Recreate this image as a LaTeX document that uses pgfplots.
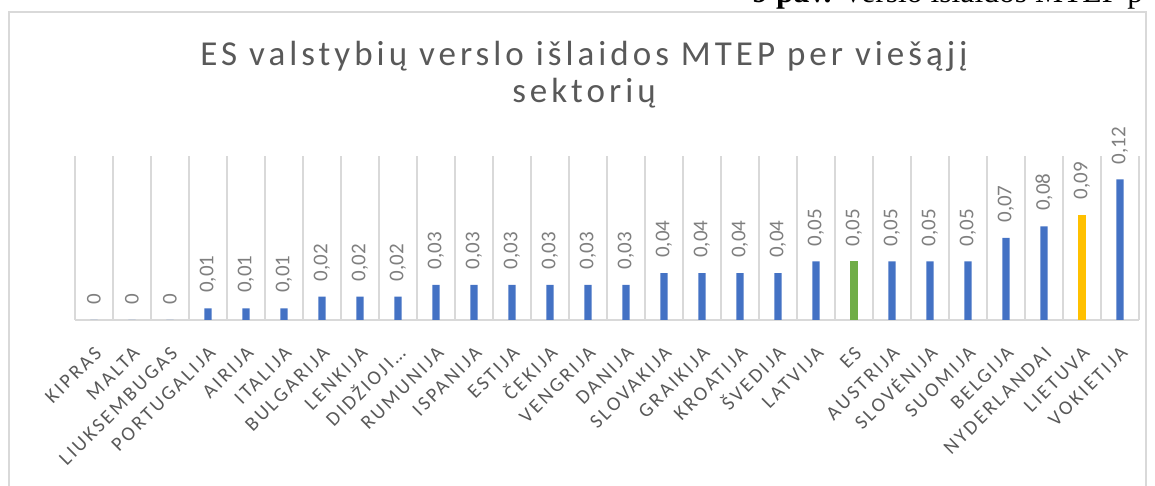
\documentclass[border=0pt]{standalone}
\usepackage{fontspec}
\setmainfont{Liberation Serif}
\newfontfamily\lblfont{Carlito}
\newfontfamily\tickfont[LetterSpace=13]{Carlito}
\newfontfamily\titlefont[LetterSpace=11.5]{Carlito}
\usepackage{pgfplots}
\pgfplotsset{compat=1.18}
\definecolor{cblue}{HTML}{4472C4}
\definecolor{cgreen}{HTML}{70AD47}
\definecolor{cyellow}{HTML}{FFC000}
\definecolor{ctxt}{HTML}{595959}
\definecolor{clbl}{HTML}{7F7F7F}
\definecolor{cgrid}{HTML}{D9D9D9}
\begin{document}
\begin{tikzpicture}
\useasboundingbox (0,0) rectangle (577.5pt,243pt);
\clip (0,0) rectangle (577.5pt,243pt);
% caption fragment of the document (cut at top)
\node[anchor=base west, inner sep=0pt, font=\fontsize{15.8}{18}\selectfont] at (376pt,241.75pt) {\textbf{9 pav.} Verslo išlaidos MTEP p};
% chart frame
\draw[cgrid, line width=0.9pt] (4.5pt,-20pt) -- (4.5pt,237pt) -- (573pt,237pt) -- (573pt,-20pt);
% title
\node[anchor=base, inner sep=0pt, text=ctxt, font=\titlefont\fontsize{17.5}{20}\selectfont] at (292pt,210pt) {ES valstybių verslo išlaidos MTEP per viešąjį};
\node[anchor=base, inner sep=0pt, text=ctxt, font=\titlefont\fontsize{17.5}{20}\selectfont] at (292pt,191.5pt) {sektorių};
\begin{axis}[
  at={(37.5pt,83pt)}, anchor=south west,
  scale only axis, width=532pt, height=82pt,
  xmin=0, xmax=28, ymin=0, ymax=0.14,
  axis x line=bottom, axis y line=none,
  axis line style={-, cgrid, line width=0.9pt},
  xtick={0.5,1.5,...,27.5},
  xticklabels={KIPRAS,MALTA,LIUKSEMBUGAS,PORTUGALIJA,AIRIJA,ITALIJA,BULGARIJA,LENKIJA,{DIDŽIOJI…},RUMUNIJA,ISPANIJA,ESTIJA,ČEKIJA,VENGRIJA,DANIJA,SLOVAKIJA,GRAIKIJA,KROATIJA,ŠVEDIJA,LATVIJA,ES,AUSTRIJA,SLOVĖNIJA,SUOMIJA,BELGIJA,NYDERLANDAI,LIETUVA,VOKIETIJA},
  major tick length=0pt,
  minor xtick={0,1,...,28}, minor tick length=0pt,
  xminorgrids, minor grid style={cgrid, line width=0.7pt},
  xticklabel style={anchor=east, inner sep=0pt, text height=6.44pt, text depth=0pt, xshift=2.2pt, yshift=-14.9pt, rotate=45, text=ctxt, font=\tickfont\fontsize{10}{12}\selectfont},
  ybar, bar width=3.65pt,
  nodes near coords,
  /pgf/number format/.cd, use comma, fixed, precision=2, assume math mode=true,
  /pgfplots/.cd,
  nodes near coords style={rotate=90, anchor=west, inner xsep=7.5pt, inner ysep=0pt, text=clbl, font=\lblfont\fontsize{10.5}{12}\selectfont},
  clip=false,
]
\addplot[bar shift=0pt, fill=cblue, draw=none] coordinates {
(0.5,0) (1.5,0) (2.5,0) (3.5,0.01) (4.5,0.01) (5.5,0.01) (6.5,0.02) (7.5,0.02) (8.5,0.02)
(9.5,0.03) (10.5,0.03) (11.5,0.03) (12.5,0.03) (13.5,0.03) (14.5,0.03)
(15.5,0.04) (16.5,0.04) (17.5,0.04) (18.5,0.04) (19.5,0.05)
(21.5,0.05) (22.5,0.05) (23.5,0.05) (24.5,0.07) (25.5,0.08) (27.5,0.12)};
\addplot[bar shift=0pt, fill=cgreen, draw=none] coordinates {(20.5,0.05)};
\addplot[bar shift=0pt, fill=cyellow, draw=none] coordinates {(26.5,0.09)};
\end{axis}
\end{tikzpicture}
\end{document}
